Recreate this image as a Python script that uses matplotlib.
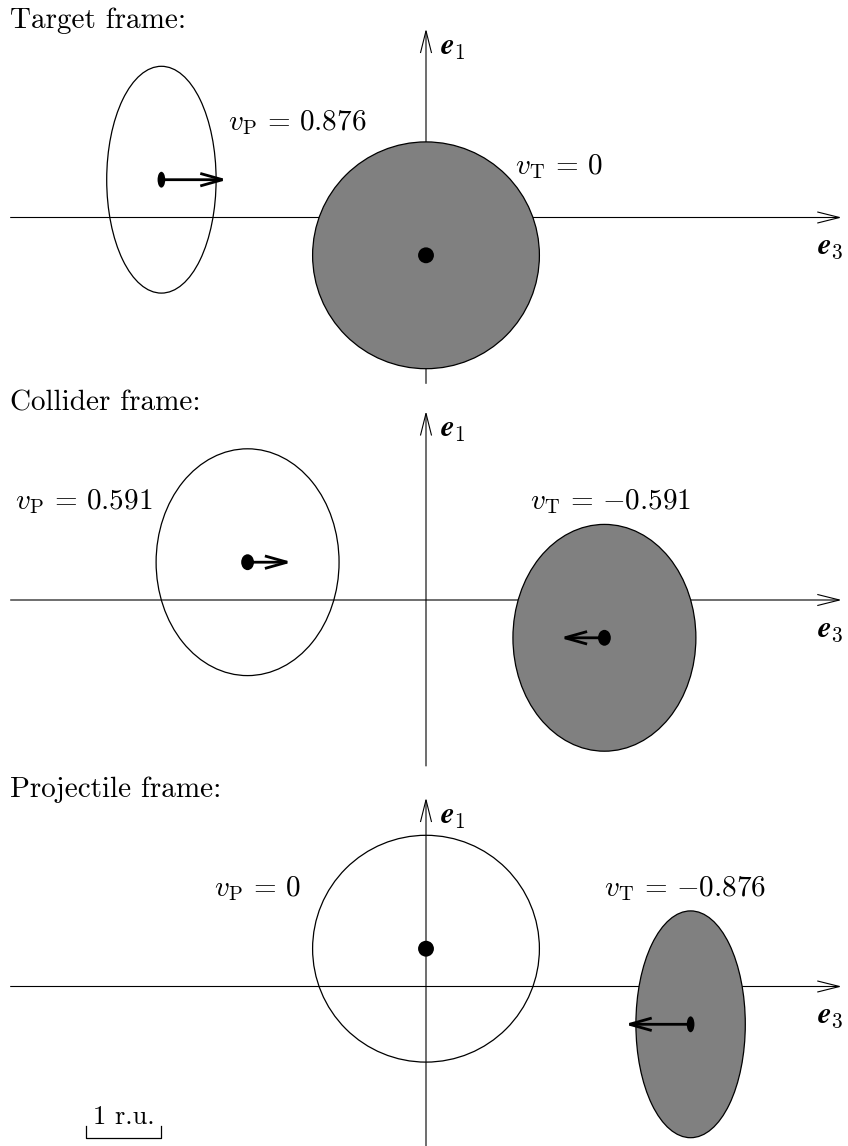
import matplotlib
matplotlib.use("Agg")
import matplotlib.pyplot as plt
from matplotlib.patches import Ellipse, FancyArrowPatch
import numpy as np

plt.rcParams['mathtext.fontset'] = 'cm'

# data (r.u. = radius units)
frames = ["Target", "Collider", "Projectile"]
v_proj = [0.876, 0.591, 0.0]
v_targ = [0.0, -0.591, -0.876]
z_proj = [-3.5, -2.36, 0.0]   # e3 position of projectile nucleus
z_targ = [0.0, 2.36, 3.5]     # e3 position of target nucleus
b_proj = 0.5                  # e1 offset of projectile
b_targ = -0.5
radius = 1.5
dot_r = 0.105

# layout
U = 75.6                      # pixels per r.u.
W, H = 848, 1146
x0 = 426
panel_y = [-217.5 / U, -600 / U, -986.5 / U]
lab_p = [(-2.62, 1.26), (-5.44, 1.30), (-2.81, 1.29)]
lab_t = [(1.18, 0.67), (1.38, 1.30), (2.35, 1.29)]
fs = 21

fig = plt.figure(figsize=(W / 100, H / 100), dpi=100)
ax = fig.add_axes([0, 0, 1, 1])
ax.set_xlim(-x0 / U, (W - x0) / U)
ax.set_ylim(-H / U, 0)
ax.set_aspect('equal')
ax.axis('off')


def arrow(p, q, lw, hl, hw, z):
    a = FancyArrowPatch(p, q, arrowstyle=f"->,head_length={hl},head_width={hw}",
                        mutation_scale=10, lw=lw, color='k', shrinkA=0, shrinkB=0,
                        zorder=z, capstyle='butt', joinstyle='miter')
    ax.add_patch(a)


for i, y0 in enumerate(panel_y):
    # axes
    arrow((-5.5, y0), (5.5, y0), 0.8, 1.6, 0.4, 1)
    arrow((0, y0 - 2.2), (0, y0 + 2.5), 0.8, 1.6, 0.4, 1)
    ax.text(0.18, y0 + 2.25, r"$\mathbfit{e}_1$", fontsize=fs + 1, va='center', ha='left')
    ax.text(5.17, y0 - 0.39, r"$\mathbfit{e}_3$", fontsize=fs + 1, va='center', ha='left')
    ax.text(-5.5, y0 + 2.6, "%s frame:" % frames[i], fontsize=fs, family='cmr10',
            va='center', ha='left')

    # nuclei
    for z, b, v, fill, lab, name in [(z_proj[i], b_proj, v_proj[i], 'none', lab_p[i], 'P'),
                                     (z_targ[i], b_targ, v_targ[i], '#808080', lab_t[i], 'T')]:
        g = np.sqrt(1 - v ** 2)
        c = (z, y0 + b)
        ax.add_patch(Ellipse(c, 2 * radius * g, 2 * radius, facecolor=fill,
                             edgecolor='k', lw=0.9, zorder=2))
        ax.add_patch(Ellipse(c, 2 * dot_r * g, 2 * dot_r, facecolor='k',
                             edgecolor='none', zorder=4))
        if v != 0:
            arrow(c, (z + v, y0 + b), 2.0, 1.6, 0.45, 3)
        if v == 0:
            vs = "0"
        elif v < 0:
            vs = "{-}%.3f" % abs(v)
        else:
            vs = "%.3f" % v
        ax.text(lab[0], y0 + lab[1], r"$v_\mathrm{%s}\,=\,%s$" % (name, vs), fontsize=fs,
                va='center', ha='left')

# scale bar
yb = panel_y[2] - 2.0
ax.plot([-4.5, -4.5, -3.5, -3.5], [yb + 0.15, yb, yb, yb + 0.15], color='k', lw=0.9)
ax.text(-4.0, yb + 0.27, "1 r.u.", family='cmr10', fontsize=19, ha='center', va='center')

fig.savefig("out.png", dpi=100)
